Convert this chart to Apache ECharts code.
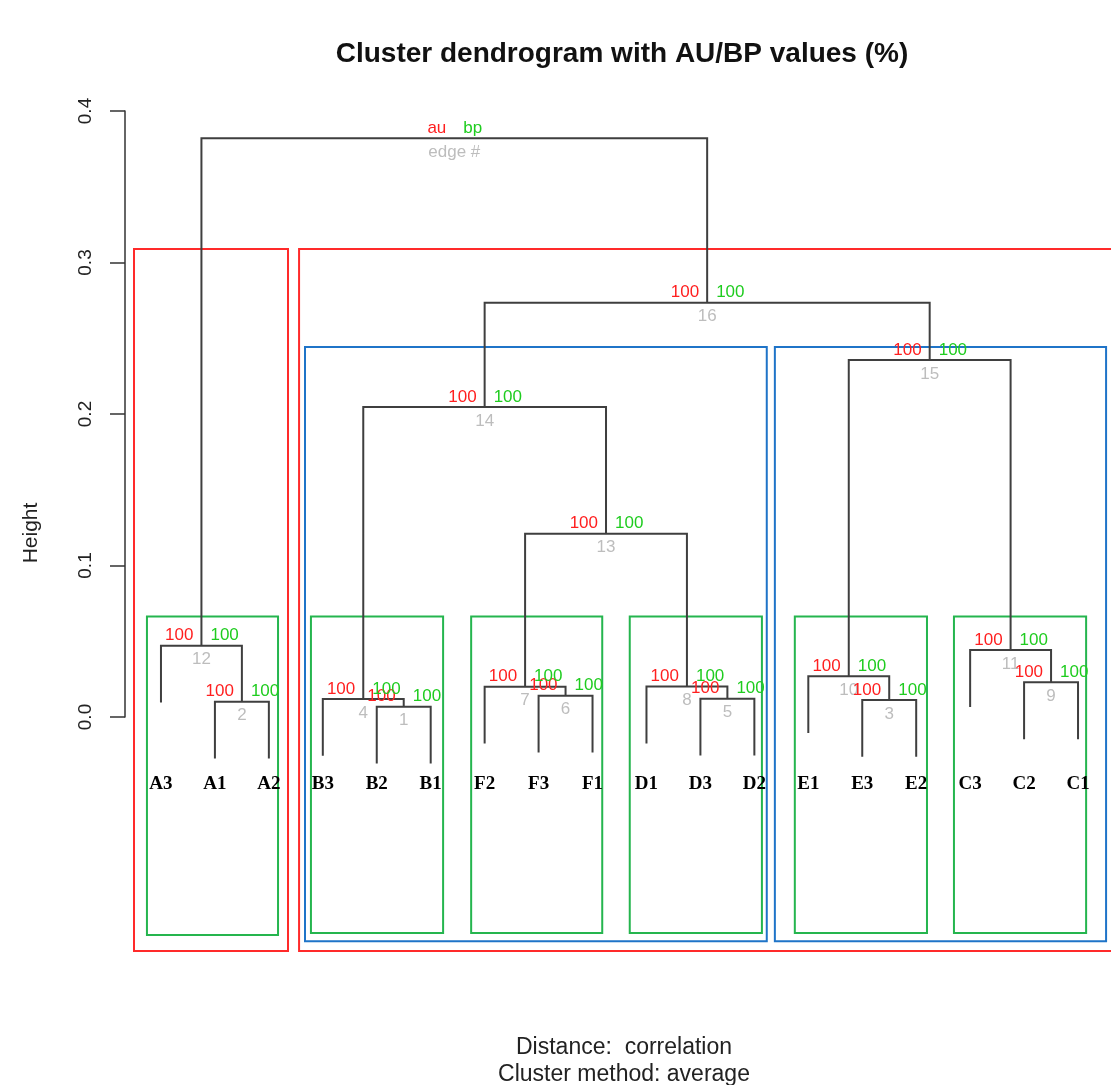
<!DOCTYPE html>
<html>
<head>
<meta charset="utf-8">
<script src="https://cdn.jsdelivr.net/npm/echarts@6/dist/echarts.min.js"></script>
<style>
  html, body { margin: 0; padding: 0; background: #ffffff; }
  #main { width: 1111px; height: 1085px; }
</style>
</head>
<body>
<div id="main"></div>
<script>
// Leaves in plotting order (left to right)
const leafLabels = ['A3', 'A1', 'A2', 'B3', 'B2', 'B1', 'F2', 'F3', 'F1',
                    'D1', 'D3', 'D2', 'E1', 'E3', 'E2', 'C3', 'C2', 'C1'];

// hclust-style merge table: negative = leaf position (1-based), positive = earlier edge number
const mergeLeft    = [-5, -2, -14, -4, -11, -8, -7, -10, -17, -13, -16, -1,  7,  4, 10, 14, 12];
const mergeRight   = [-6, -3, -15,  1, -12, -9,  6,   5, -18,   3,   9,  2,  8, 13, 11, 15, 16];
const mergeHeights = [0.0068, 0.0101, 0.0112, 0.0119, 0.0121, 0.0141, 0.0200, 0.0201, 0.0229,
                      0.0269, 0.0442, 0.0471, 0.1210, 0.2046, 0.2356, 0.2735, 0.3820];

// Approximately unbiased / bootstrap probabilities (%) for edges 1..16
const auValues = [100, 100, 100, 100, 100, 100, 100, 100, 100, 100, 100, 100, 100, 100, 100, 100];
const bpValues = [100, 100, 100, 100, 100, 100, 100, 100, 100, 100, 100, 100, 100, 100, 100, 100];

// Height axis ticks
const heightTicks = [0, 0.1, 0.2, 0.3, 0.4];

// Highlighted clusters (leaf-position units horizontally, height units vertically)
const boxKind   = ['red', 'red', 'blue', 'blue', 'green', 'green', 'green', 'green', 'green', 'green'];
const boxLeft   = [0.50, 3.56, 3.67, 12.38, 0.74, 3.78, 6.75, 9.69, 12.75, 15.70];
const boxRight  = [3.355, 18.75, 12.23, 18.52, 3.17, 6.23, 9.18, 12.14, 15.20, 18.15];
const boxTop    = [0.3089, 0.3089, 0.2442, 0.2442, 0.0663, 0.0663, 0.0663, 0.0663, 0.0663, 0.0663];
const boxBottom = [-0.1545, -0.1545, -0.1480, -0.1480, -0.1439, -0.1426, -0.1426, -0.1426, -0.1426, -0.1426];

const boxColors = { red: '#ff2a2a', blue: '#1f74c8', green: '#25b54e' };
const AU_COLOR = '#ff1f1f';
const BP_COLOR = '#1fcc1f';
const EDGE_COLOR = '#bdbdbd';
const TREE_COLOR = '#3f3f3f';
const SANS = '"Liberation Sans", Arial, Helvetica, sans-serif';
const SERIF = '"Liberation Serif", "Times New Roman", serif';

// Tree geometry derived from the merge table
const hang = 0.1 * (Math.max(...mergeHeights) - Math.min(...mergeHeights));
const nodeX = [];
function childX(c) { return c < 0 ? -c : nodeX[c - 1]; }
function childH(c, parentH) { return c < 0 ? parentH - hang : mergeHeights[c - 1]; }
mergeHeights.forEach((h, i) => {
  nodeX[i] = (childX(mergeLeft[i]) + childX(mergeRight[i])) / 2;
});
const rootIndex = mergeHeights.length - 1;

function renderBox(params, api) {
  const i = api.value(2);
  const p0 = api.coord([boxLeft[i], boxTop[i]]);
  const p1 = api.coord([boxRight[i], boxBottom[i]]);
  return {
    type: 'rect',
    shape: { x: p0[0], y: p0[1], width: p1[0] - p0[0], height: p1[1] - p0[1] },
    style: { fill: 'none', stroke: boxColors[boxKind[i]], lineWidth: 2 }
  };
}

function renderNode(params, api) {
  const i = api.value(2);
  const h = mergeHeights[i];
  const l = mergeLeft[i], r = mergeRight[i];
  const pts = [
    api.coord([childX(l), childH(l, h)]),
    api.coord([childX(l), h]),
    api.coord([childX(r), h]),
    api.coord([childX(r), childH(r, h)])
  ];
  const c = api.coord([nodeX[i], h]);
  const isRoot = i === rootIndex;
  const font = '17px ' + SANS;
  return {
    type: 'group',
    children: [
      { type: 'polyline', shape: { points: pts },
        style: { stroke: TREE_COLOR, lineWidth: 2, fill: 'none' } },
      { type: 'text', z2: 5,
        style: { text: isRoot ? 'au' : String(auValues[i]), x: c[0] - 8, y: c[1] - 10,
                 align: 'right', verticalAlign: 'middle', font: font, fill: AU_COLOR } },
      { type: 'text', z2: 5,
        style: { text: isRoot ? 'bp' : String(bpValues[i]), x: c[0] + 9, y: c[1] - 10,
                 align: 'left', verticalAlign: 'middle', font: font, fill: BP_COLOR } },
      { type: 'text', z2: 4,
        style: { text: isRoot ? 'edge #' : String(i + 1), x: c[0], y: c[1] + 14,
                 align: 'center', verticalAlign: 'middle', font: font, fill: EDGE_COLOR } }
    ]
  };
}

function renderLeaf(params, api) {
  const i = api.value(2);
  const p = api.coord([i + 1, 0]);
  return {
    type: 'text',
    style: { text: leafLabels[i], x: p[0], y: p[1] + 67, align: 'center', verticalAlign: 'middle',
             font: 'bold 19px ' + SERIF, fill: '#000' }
  };
}

const chart = echarts.init(document.getElementById('main'), null, { renderer: 'canvas' });
chart.setOption({
  backgroundColor: '#ffffff',
  animation: false,
  title: [
    { text: 'Cluster dendrogram with AU/BP values (%)', left: 617, top: 35, textAlign: 'center',
      textStyle: { fontFamily: SANS, fontWeight: 'bold', fontSize: 28, color: '#111' } },
    { text: 'Distance:  correlation\nCluster method: average', left: 619, top: 1029, textAlign: 'center',
      textStyle: { fontFamily: SANS, fontWeight: 'normal', fontSize: 23, lineHeight: 27, color: '#222' } }
  ],
  graphic: [
    { type: 'text', x: 31, y: 533, rotation: Math.PI / 2,
      style: { text: 'Height', font: '21px ' + SANS, fill: '#222', align: 'center', verticalAlign: 'middle' } }
  ],
  grid: { left: 134, right: 6, top: 111, bottom: 368, containLabel: false },
  xAxis: { type: 'value', min: 0.5, max: 18.5, show: false },
  yAxis: {
    type: 'value', min: heightTicks[0], max: heightTicks[heightTicks.length - 1], interval: 0.1,
    offset: 9,
    axisLine: { show: true, lineStyle: { color: '#333', width: 1.5 } },
    axisTick: { show: true, length: 15, lineStyle: { color: '#333', width: 1.5 } },
    axisLabel: { rotate: 90, margin: 30, fontSize: 19, fontFamily: SANS, color: '#222',
                 formatter: v => v.toFixed(1) },
    splitLine: { show: false }
  },
  series: [
    { type: 'custom', silent: true, clip: false, z: 1, renderItem: renderBox,
      encode: { x: 0, y: 1 },
      data: boxKind.map((k, i) => [boxLeft[i], boxTop[i], i]) },
    { type: 'custom', silent: true, clip: false, z: 2, renderItem: renderNode,
      encode: { x: 0, y: 1 },
      data: mergeHeights.map((h, i) => [nodeX[i], h, i]) },
    { type: 'custom', silent: true, clip: false, z: 3, renderItem: renderLeaf,
      encode: { x: 0, y: 1 },
      data: leafLabels.map((n, i) => [i + 1, 0, i]) }
  ]
});
</script>
</body>
</html>
